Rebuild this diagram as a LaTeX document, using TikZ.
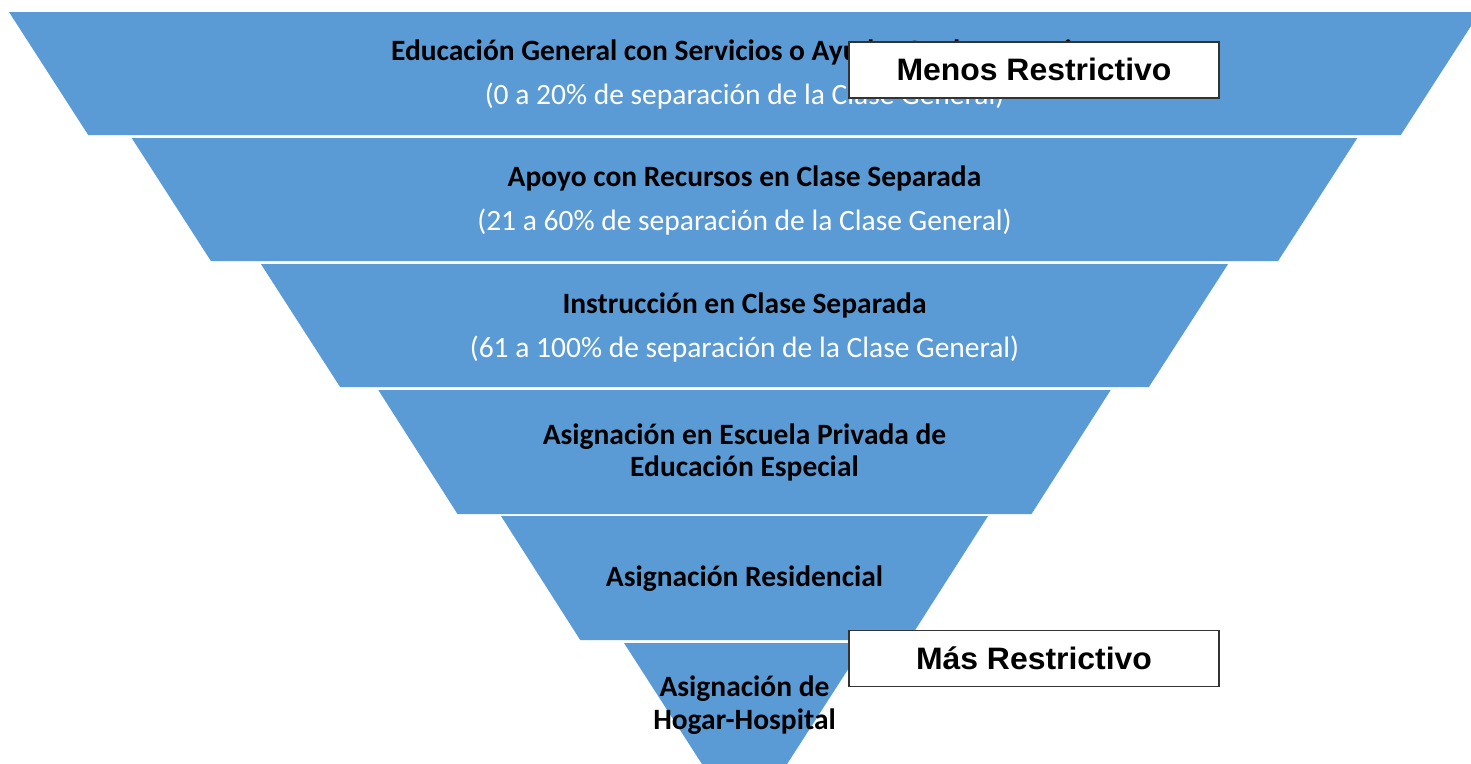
\documentclass[tikz,border=0pt]{standalone}
\usepackage{fontspec}
\setmainfont{Carlito}
\newfontfamily\boxfont{Liberation Sans}
\definecolor{layerblue}{HTML}{5B9BD5}
\tikzset{
  layer/.style={fill=layerblue},
  title/.style={font=\bfseries\fontsize{29.5}{32}\selectfont, text=black, anchor=base, inner sep=0pt},
  subtitle/.style={font=\fontsize{29.5}{32}\selectfont, text=white, anchor=base, inner sep=0pt},
  restr/.style={draw=black!80, line width=1.4pt, fill=white, minimum width=370pt, minimum height=56pt, inner sep=0pt,
    font=\boxfont\bfseries\fontsize{31}{33}\selectfont}
}
\begin{document}
\begin{tikzpicture}[x=1pt,y=-1pt]
\clip (0,0) rectangle (1471,763);
\fill[white] (0,0) rectangle (1471,763);
\foreach \yt/\yb/\ht in {12/135/735.5, 138/261/612.8, 264/387/483.6, 390/514/366.2, 516/640/243.5, 643/766/120.5}{
  \fill[layer] (744.5-\ht,\yt) -- (744.5+\ht,\yt) -- (744.5+\ht-79.2,\yb) -- (744.5-\ht+79.2,\yb) -- cycle;
}
% layer 1
\node[title] (t1) at (744.5,60.7) {Educación General con Servicios o Ayudas Suplementarias};
\node[subtitle] (s1) at (744.5,104.5) {(0 a 20\% de separación de la Clase General)};
% layer 2
\node[title] (t2) at (744.5,186.9) {Apoyo con Recursos en Clase Separada};
\node[subtitle] (s2) at (744.5,230.7) {(21 a 60\% de separación de la Clase General)};
% layer 3
\node[title] (t3) at (744.5,313) {Instrucción en Clase Separada};
\node[subtitle] (s3) at (744.5,357) {(61 a 100\% de separación de la Clase General)};
% layer 4
\node[title] (t4a) at (744.5,444) {Asignación en Escuela Privada de};
\node[title] (t4b) at (744.5,476.5) {Educación Especial};
% layer 5
\node[title] (t5) at (744.5,586.7) {Asignación Residencial};
% layer 6
\node[title] (t6a) at (744.5,696.7) {Asignación de};
\node[title] (t6b) at (744.5,729.3) {Hogar-Hospital};
% boxes
\node[restr] (menos) at (1034,69.9) {\scalebox{1.03}[1]{Menos Restrictivo}};
\node[restr] (mas) at (1034,658.7) {\scalebox{1.03}[1]{Más Restrictivo}};
\end{tikzpicture}
\end{document}
